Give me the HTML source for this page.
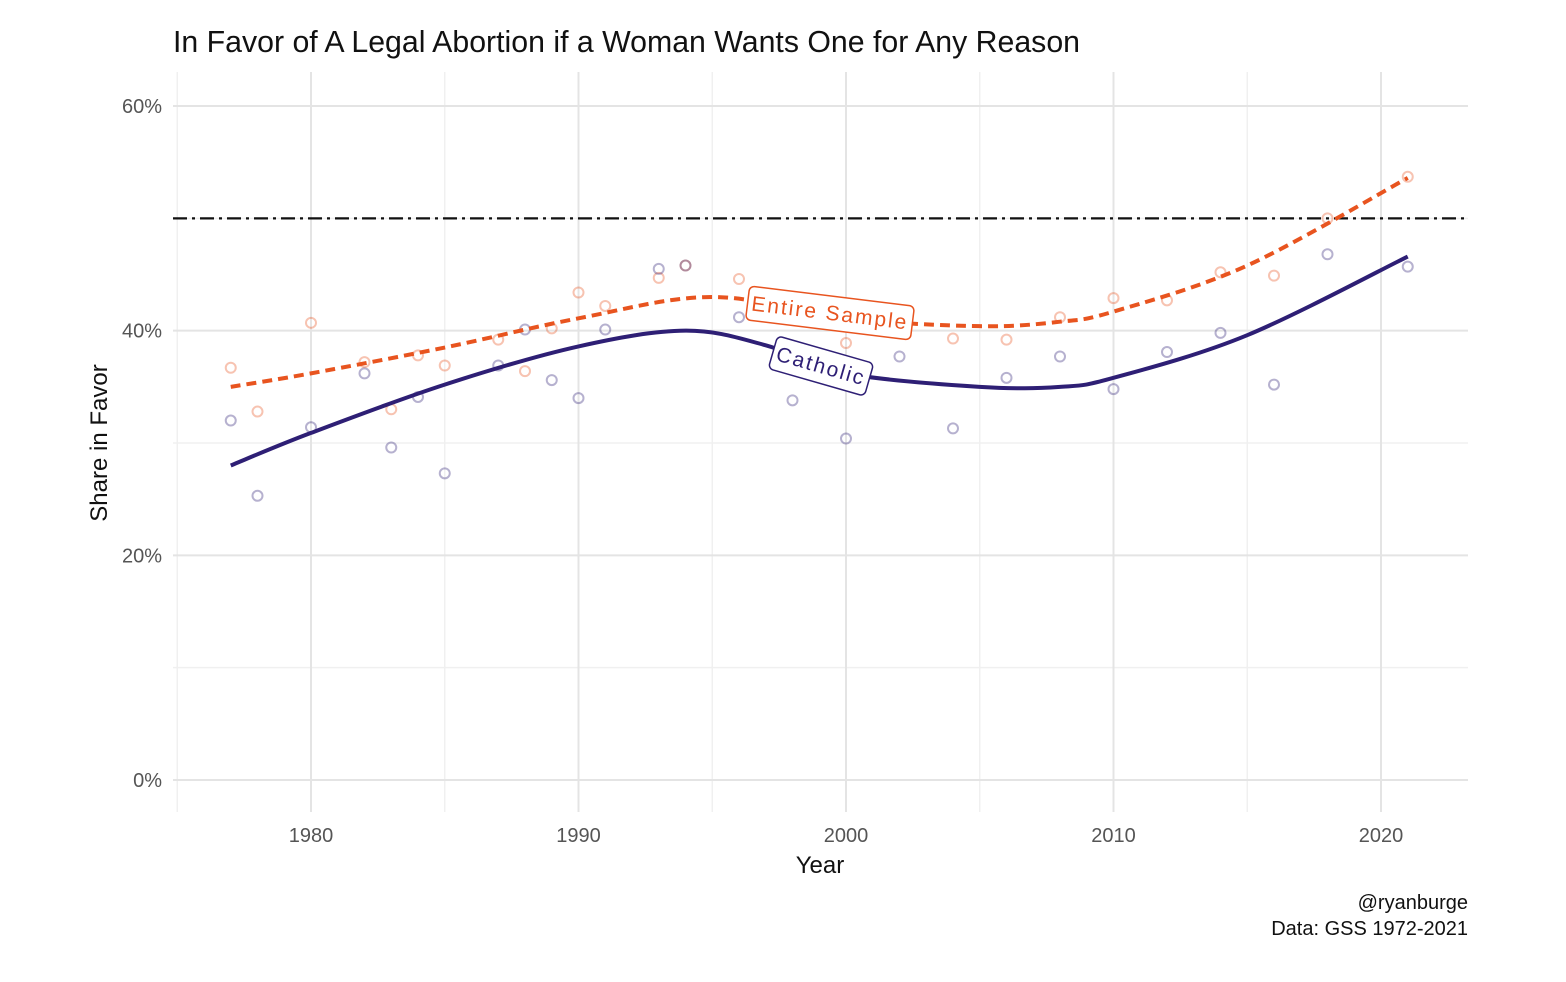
<!DOCTYPE html>
<html><head><meta charset="utf-8"><style>
html,body{margin:0;padding:0;background:#fff;}
svg{display:block;font-family:"Liberation Sans",sans-serif;}
</style></head><body>
<svg id="chart" width="1566" height="982"></svg>
<script>
const years=[1977,1978,1980,1982,1983,1984,1985,1987,1988,1989,1990,1991,1993,1994,1996,1998,2000,2002,2004,2006,2008,2010,2012,2014,2016,2018,2021];
const catholicVals=[32.0,25.3,31.4,36.2,29.6,34.1,27.3,36.9,40.1,35.6,34.0,40.1,45.5,45.8,41.2,33.8,30.4,37.7,31.3,35.8,37.7,34.8,38.1,39.8,35.2,46.8,45.7];
const entireVals=[36.7,32.8,40.7,37.2,33.0,37.8,36.9,39.2,36.4,40.2,43.4,42.2,44.7,45.8,44.6,42.0,38.9,41.0,39.3,39.2,41.2,42.9,42.7,45.2,44.9,50.0,53.7];
const smoothYears=[1977,1980,1985,1990,1994,1997,2000,2005,2008,2010,2015,2021];
const catholicSmooth=[28.0,30.9,35.2,38.6,40.0,38.7,36.2,35.0,35.0,35.8,39.6,46.6];
const entireSmoothYears=[1977,1980,1985,1990,1995,2000,2005,2008,2010,2015,2021];
const entireSmooth=[35.0,36.2,38.5,41.1,43.0,41.1,40.4,40.8,41.7,45.8,53.6];
const yTicks=[0,20,40,60];
const xTicks=[1980,1990,2000,2010,2020];
const refLine=50;

const NS="http://www.w3.org/2000/svg";
const svg=document.getElementById('chart');
const X=y=>311+(y-1980)*26.75;
const Y=v=>780-v*11.233;
function mk(tag,attrs,parent){const e=document.createElementNS(NS,tag);for(const k in attrs)e.setAttribute(k,attrs[k]);(parent||svg).appendChild(e);return e;}
const grid=mk('g',{});


for(let v=10;v<=60;v+=20){mk('line',{x1:173,x2:1468,y1:Y(v),y2:Y(v),stroke:'#f0f0f0','stroke-width':1.5},grid);}
for(let yr=1975;yr<=2025;yr+=10){if(yr>2023)continue;mk('line',{x1:X(yr),x2:X(yr),y1:72,y2:812,stroke:'#f0f0f0','stroke-width':1.5},grid);}
yTicks.forEach(v=>{mk('line',{x1:173,x2:1468,y1:Y(v),y2:Y(v),stroke:'#e4e4e4','stroke-width':2},grid);
 const t=mk('text',{x:162,y:Y(v)+7,'text-anchor':'end','font-size':20,fill:'#555'});t.textContent=v+'%';
 
 });
xTicks.forEach(yr=>{mk('line',{x1:X(yr),x2:X(yr),y1:72,y2:812,stroke:'#e4e4e4','stroke-width':2},grid);
 const t=mk('text',{x:X(yr),y:842,'text-anchor':'middle','font-size':20,fill:'#555'});t.textContent=yr;
 
 });
const rl=mk('line',{x1:173,x2:1468,y1:Y(refLine),y2:Y(refLine),stroke:'#111','stroke-width':2.2,'stroke-dasharray':'14 5 3 5'});


function pts(vals,color,name){const g=mk('g',{});
 
 
 vals.forEach((v,i)=>{const c=mk('circle',{cx:X(years[i]),cy:Y(v),r:5,fill:'none',stroke:color,'stroke-width':2,opacity:0.35},g);
  
  });}
pts(entireVals,'#e8541f','entire-points');
pts(catholicVals,'#2e1f75','catholic-points');
function curve(xs,vs){const p=xs.map((x,i)=>[X(x),Y(vs[i])]);let d='M'+p[0][0]+','+p[0][1];
 for(let i=0;i<p.length-1;i++){const p0=p[i-1]||p[i],p1=p[i],p2=p[i+1],p3=p[i+2]||p2;
  d+=` C${p1[0]+(p2[0]-p0[0])/6},${p1[1]+(p2[1]-p0[1])/6} ${p2[0]-(p3[0]-p1[0])/6},${p2[1]-(p3[1]-p1[1])/6} ${p2[0]},${p2[1]}`;}
 return d;}
const cl=mk('path',{d:curve(smoothYears,catholicSmooth),fill:'none',stroke:'#2e1f75','stroke-width':4});


const el=mk('path',{d:curve(entireSmoothYears,entireSmooth),fill:'none',stroke:'#e8541f','stroke-width':4,'stroke-dasharray':'10 6'});


function lab(text,cx,cy,rot,color,w,name){const g=mk('g',{transform:`translate(${cx},${cy}) rotate(${rot})`});
 
 
 mk('rect',{x:-w/2,y:-17,width:w,height:34,rx:5,fill:'#fff',stroke:color,'stroke-width':1.5},g);
 const t=mk('text',{x:0,y:7,'text-anchor':'middle','font-size':21,fill:color,'letter-spacing':2},g);t.textContent=text;}
lab('Entire Sample',830,313,7,'#e8541f',166,'entire-sample-label');
lab('Catholic',821,366,16,'#2e1f75',100,'catholic-label');
function txt(s,x,y,size,anchor,name,extra){const t=mk('text',Object.assign({x:x,y:y,'font-size':size,fill:'#111','text-anchor':anchor},extra||{}));t.textContent=s;
 
 return t;}
txt('In Favor of A Legal Abortion if a Woman Wants One for Any Reason',173,52,31,'start','chart-title',{textLength:907,lengthAdjust:'spacingAndGlyphs'});
txt('Year',820,873,24,'middle','x-axis-title');
txt('Share in Favor',107,443,24,'middle','y-axis-title',{transform:'rotate(-90 107 443)'});
txt('@ryanburge',1468,909,20,'end','credit-handle');
txt('Data: GSS 1972-2021',1468,935,20,'end','data-source');
</script>
</body></html>
